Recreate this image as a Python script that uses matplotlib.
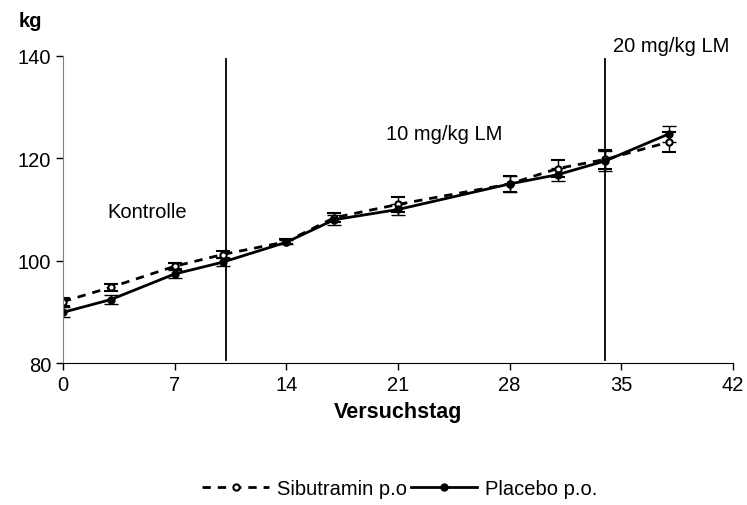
import matplotlib
matplotlib.use("Agg")
import matplotlib.pyplot as plt
from matplotlib.lines import Line2D

plt.rcParams['font.family'] = ['Liberation Sans', 'DejaVu Sans']

tage = [0, 3, 7, 10, 14, 17, 21, 28, 31, 34, 38]
sibutramin = [92.0, 94.8, 98.9, 101.2, 103.7, 108.4, 111.0, 115.0, 118.0, 119.8, 123.2]
sibutramin_err = [0.8, 0.7, 0.6, 0.7, 0.5, 0.9, 1.5, 1.5, 1.7, 1.8, 2.0]
placebo = [89.9, 92.4, 97.4, 99.7, 103.6, 108.0, 110.0, 115.0, 116.8, 119.5, 124.8]
placebo_err = [1.0, 0.8, 0.7, 0.8, 0.4, 1.0, 1.0, 1.6, 1.3, 2.0, 1.6]

phasen_grenzen = [10.2, 34.0]
phasen_texte = ["Kontrolle", "10 mg/kg LM", "20 mg/kg LM"]
phasen_pos = [(2.8, 109.7), (20.25, 124.8), (34.5, 142.0)]

fs = 14.5

fig = plt.figure(figsize=(7.47, 5.06), dpi=100)
ax = fig.add_axes([0.0843, 0.2806, 0.897, 0.6068])

ax.errorbar(tage, sibutramin, yerr=sibutramin_err, color='black', ls=(0, (3, 2.5)),
            lw=2, marker='o', ms=4.5, mfc='white', mec='black', mew=1.5,
            capsize=5, elinewidth=1, capthick=1)
ax.errorbar(tage, placebo, yerr=placebo_err, color='black', ls='-',
            lw=2, marker='o', ms=5, mfc='black', mec='black',
            capsize=5, elinewidth=1, capthick=1)

for g in phasen_grenzen:
    ax.plot([g, g], [80.5, 139.5], color='black', lw=1.3)

for t, (x, y) in zip(phasen_texte, phasen_pos):
    ax.text(x, y, t, fontsize=fs, ha='left', va='center', clip_on=False)

ax.set_xlim(0, 42)
ax.set_ylim(80, 140)
ax.set_xticks([0, 7, 14, 21, 28, 35, 42])
ax.set_yticks([80, 100, 120, 140])
ax.tick_params(labelsize=fs, direction='out', length=5, width=1)
ax.spines['top'].set_visible(False)
ax.spines['right'].set_visible(False)
ax.spines['left'].set_color('gray')
ax.set_xlabel('Versuchstag', fontsize=15.5, fontweight='bold', labelpad=5)
fig.text(0.04, 0.957, 'kg', fontsize=fs, fontweight='bold', ha='center', va='center')

handles = [
    Line2D([], [], color='black', ls=(0, (3, 2.5)), lw=2, marker='o', ms=4.5,
           mfc='white', mec='black', mew=1.5),
    Line2D([], [], color='black', ls='-', lw=2, marker='o', ms=5, mfc='black'),
]
fig.legend(handles, ['Sibutramin p.o', 'Placebo p.o.'], loc='center',
           bbox_to_anchor=(400 / 747, 1 - 490 / 506), ncol=2, frameon=False,
           fontsize=fs, handlelength=3.3, columnspacing=0.2, handletextpad=0.4)

fig.savefig('out.png', dpi=100)
